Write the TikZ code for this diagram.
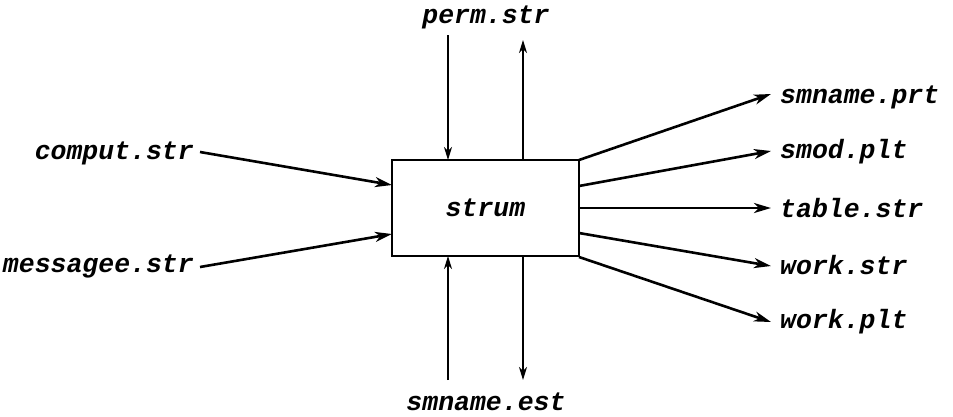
\documentclass[tikz,border=0pt]{standalone}
\usepackage{fontspec}
\setmonofont{Liberation Mono}
\usetikzlibrary{arrows.meta}
\tikzset{
  lbl/.style={font=\ttfamily\bfseries\itshape\fontsize{26.5}{30}\selectfont, inner sep=0pt},
  thick arr/.style={line width=2.6pt, -{Stealth[length=17pt,width=10pt,inset=5pt]}},
  thin arr/.style={line width=1.5pt, -{Stealth[length=13pt,width=8pt,inset=4pt]}},
  boxst/.style={draw, line width=2pt, minimum width=187pt, minimum height=96pt, inner sep=0pt}
}
\begin{document}
\begin{tikzpicture}[x=1pt,y=-1pt]
\useasboundingbox (0,0) rectangle (953,416);
\node[boxst] (box) at (485.5,208) {};
\node[lbl] (strum) at (485.5,208) {strum};
% labels
\node[lbl] (perm) at (486,17) {perm.str};
\node[lbl] (est) at (486,402) {smname.est};
\node[lbl, anchor=east] (comput) at (194,153) {comput.str};
\node[lbl, anchor=east] (mess) at (194,266) {messagee.str};
\node[lbl, anchor=west] (prt) at (780,97) {smname.prt};
\node[lbl, anchor=west] (smod) at (780,152) {smod.plt};
\node[lbl, anchor=west] (table) at (780,208) {table.str};
\node[lbl, anchor=west] (wstr) at (780,265) {work.str};
\node[lbl, anchor=west] (wplt) at (780,322) {work.plt};
% coordinates
\coordinate (t1s) at (448,35);  \coordinate (t1e) at (448,160);
\coordinate (t2s) at (523,160); \coordinate (t2e) at (523,40);
\coordinate (b1s) at (448,380); \coordinate (b1e) at (448,256);
\coordinate (b2s) at (523,256); \coordinate (b2e) at (523,380);
\coordinate (l1s) at (200,152); \coordinate (l1e) at (392,185);
\coordinate (l2s) at (200,267); \coordinate (l2e) at (392,234);
\coordinate (r1s) at (579,160); \coordinate (r1e) at (771,94);
\coordinate (r2s) at (579,186); \coordinate (r2e) at (771,151);
\coordinate (r3s) at (579,208); \coordinate (r3e) at (771,208);
\coordinate (r4s) at (579,233); \coordinate (r4e) at (771,266);
\coordinate (r5s) at (579,257); \coordinate (r5e) at (771,322);
% arrows
\draw[thin arr] (t1s) -- (t1e);
\draw[thin arr] (t2s) -- (t2e);
\draw[thin arr] (b1s) -- (b1e);
\draw[thin arr] (b2s) -- (b2e);
\draw[thick arr] (l1s) -- (l1e);
\draw[thick arr] (l2s) -- (l2e);
\draw[thick arr] (r1s) -- (r1e);
\draw[thick arr] (r2s) -- (r2e);
\draw[thick arr] (r3s) -- (r3e);
\draw[thick arr] (r4s) -- (r4e);
\draw[thick arr] (r5s) -- (r5e);
\end{tikzpicture}
\end{document}
